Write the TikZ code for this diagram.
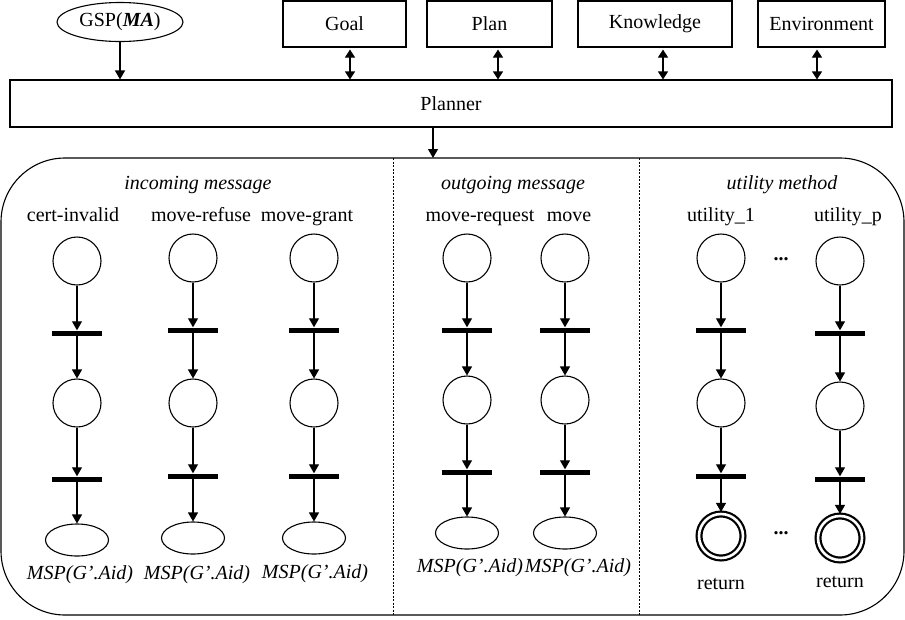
\documentclass[tikz,border=0pt]{standalone}
\usepackage{fontspec}
\setmainfont{Liberation Serif}
\usetikzlibrary{arrows.meta,shapes.geometric}
\begin{document}
\begin{tikzpicture}[x=1pt,y=-1pt,
  every node/.style={font=\fontsize{20}{24}\selectfont},
  box/.style={draw,line width=1.1pt,rectangle,inner sep=0pt},
  place/.style={draw,circle,line width=1.1pt,minimum size=48pt,inner sep=0pt},
  trans/.style={fill=black,rectangle,minimum width=50pt,minimum height=5pt,inner sep=0pt},
  endell/.style={draw,ellipse,line width=1.1pt,minimum width=63pt,minimum height=32pt,inner sep=0pt},
  endret/.style={draw,circle,line width=2.2pt,double,double distance=2.6pt,minimum size=44pt,inner sep=0pt},
  arr/.style={-{Triangle[length=9pt,width=10pt]},line width=1.1pt},
  darr/.style={{Triangle[length=8pt,width=10pt]}-{Triangle[length=8pt,width=10pt]},line width=1.1pt},
  lab/.style={anchor=base,inner sep=0pt},
  sep/.style={line width=0.8pt,dash pattern=on 2pt off 1.5pt}]
\useasboundingbox (0,0) rectangle (905,619);
% top row
\node[box,ellipse,minimum width=126pt,minimum height=39pt] (gsp) at (120,22) {GSP(\textbf{\textit{MA}})};
\node[box,minimum width=123pt,minimum height=46pt] (goal) at (344.5,24) {Goal};
\node[box,minimum width=125pt,minimum height=46pt] (plan) at (489.5,24) {Plan};
\node[box,minimum width=154pt,minimum height=46pt] (know) at (655,24) {Knowledge};
\node[box,minimum width=127pt,minimum height=46pt] (env) at (821.5,24) {Environment};
\node[box,minimum width=882pt,minimum height=47pt] (planner) at (451,103.5) {Planner};
\draw[arr] (gsp.south) -- (gsp.south |- planner.north);
\draw[darr,shorten <=2pt] ([xshift=5.5pt]goal.south) -- ([xshift=5.5pt]goal.south |- planner.north);
\draw[darr,shorten <=2pt] ([xshift=8.5pt]plan.south) -- ([xshift=8.5pt]plan.south |- planner.north);
\draw[darr,shorten <=2pt] ([xshift=8pt]know.south) -- ([xshift=8pt]know.south |- planner.north);
\draw[darr,shorten <=2pt] ([xshift=-4.5pt]env.south) -- ([xshift=-4.5pt]env.south |- planner.north);
% container
\draw[line width=1.1pt,rounded corners=64pt] (1,158) rectangle (904,615);
\coordinate (boxtop) at (433,158);
\draw[arr] ([xshift=-18pt]planner.south) -- (boxtop);
\coordinate (d1t) at (393,158); \coordinate (d1b) at (393,615);
\coordinate (d2t) at (639,158); \coordinate (d2b) at (639,615);
\draw[sep] (d1t) -- (d1b);
\draw[sep] (d2t) -- (d2b);
% section titles
\node[lab] (s1) at (198,189) {\textit{incoming message}};
\node[lab] (s2) at (513,189) {\textit{outgoing message}};
\node[lab] (s3) at (782,189) {\textit{utility method}};
% columns
\foreach \n/\x/\ya/\ta/\yb/\tb/\ye/\lab/\lx/\bl/\bx/\by in {
  c1/77/261/333/403/479/540/cert-invalid/73/MSP(G'.Aid)/80/579,
  c2/193/258/330/403/476/538/move-refuse/201/MSP(G'.Aid)/197/579,
  c3/314/258/330/403/476/538/move-grant/307/MSP(G'.Aid)/315/578,
  c4/467/258/330/400/472/533/move-request/480/MSP(G'.Aid)/470/572,
  c5/565/258/330/400/472/533/move/569/MSP(G'.Aid)/578/572}{
  \node[lab] (\n l) at (\lx,221) {\lab};
  \node[place] (\n p1) at (\x,\ya) {};
  \node[trans] (\n t1) at (\x,\ta) {};
  \node[place] (\n p2) at (\x,\yb) {};
  \node[trans] (\n t2) at (\x,\tb) {};
  \node[endell] (\n e) at (\x,\ye) {};
  \node[lab] (\n m) at (\bx,\by) {\textit{\bl}};
  \draw[arr] (\n p1) -- (\n t1.north);
  \draw[arr] (\n t1) -- (\n p2);
  \draw[arr] (\n p2) -- (\n t2.north);
  \draw[arr] (\n t2) -- (\n e);
}
\foreach \n/\x/\ya/\ta/\yb/\tb/\ye/\lab/\lx/\by in {
  c6/721/258/330/403/476/536/utility\_1/721/589,
  c7/840/261/333/406/479/538/utility\_p/848/587}{
  \node[lab] (\n l) at (\lx,221) {\lab};
  \node[place] (\n p1) at (\x,\ya) {};
  \node[trans] (\n t1) at (\x,\ta) {};
  \node[place] (\n p2) at (\x,\yb) {};
  \node[trans] (\n t2) at (\x,\tb) {};
  \node[endret] (\n e) at (\x,\ye) {};
  \node[lab] (\n m) at (\x,\by) {return};
  \draw[arr] (\n p1) -- (\n t1.north);
  \draw[arr] (\n t1) -- (\n p2);
  \draw[arr] (\n p2) -- (\n t2.north);
  \draw[arr,shorten >=1pt] (\n t2) -- (\n e.north);
}
\node (dots1) at (781,259) {\textbf{...}};
\node (dots2) at (781,533) {\textbf{...}};
\end{tikzpicture}
\end{document}
